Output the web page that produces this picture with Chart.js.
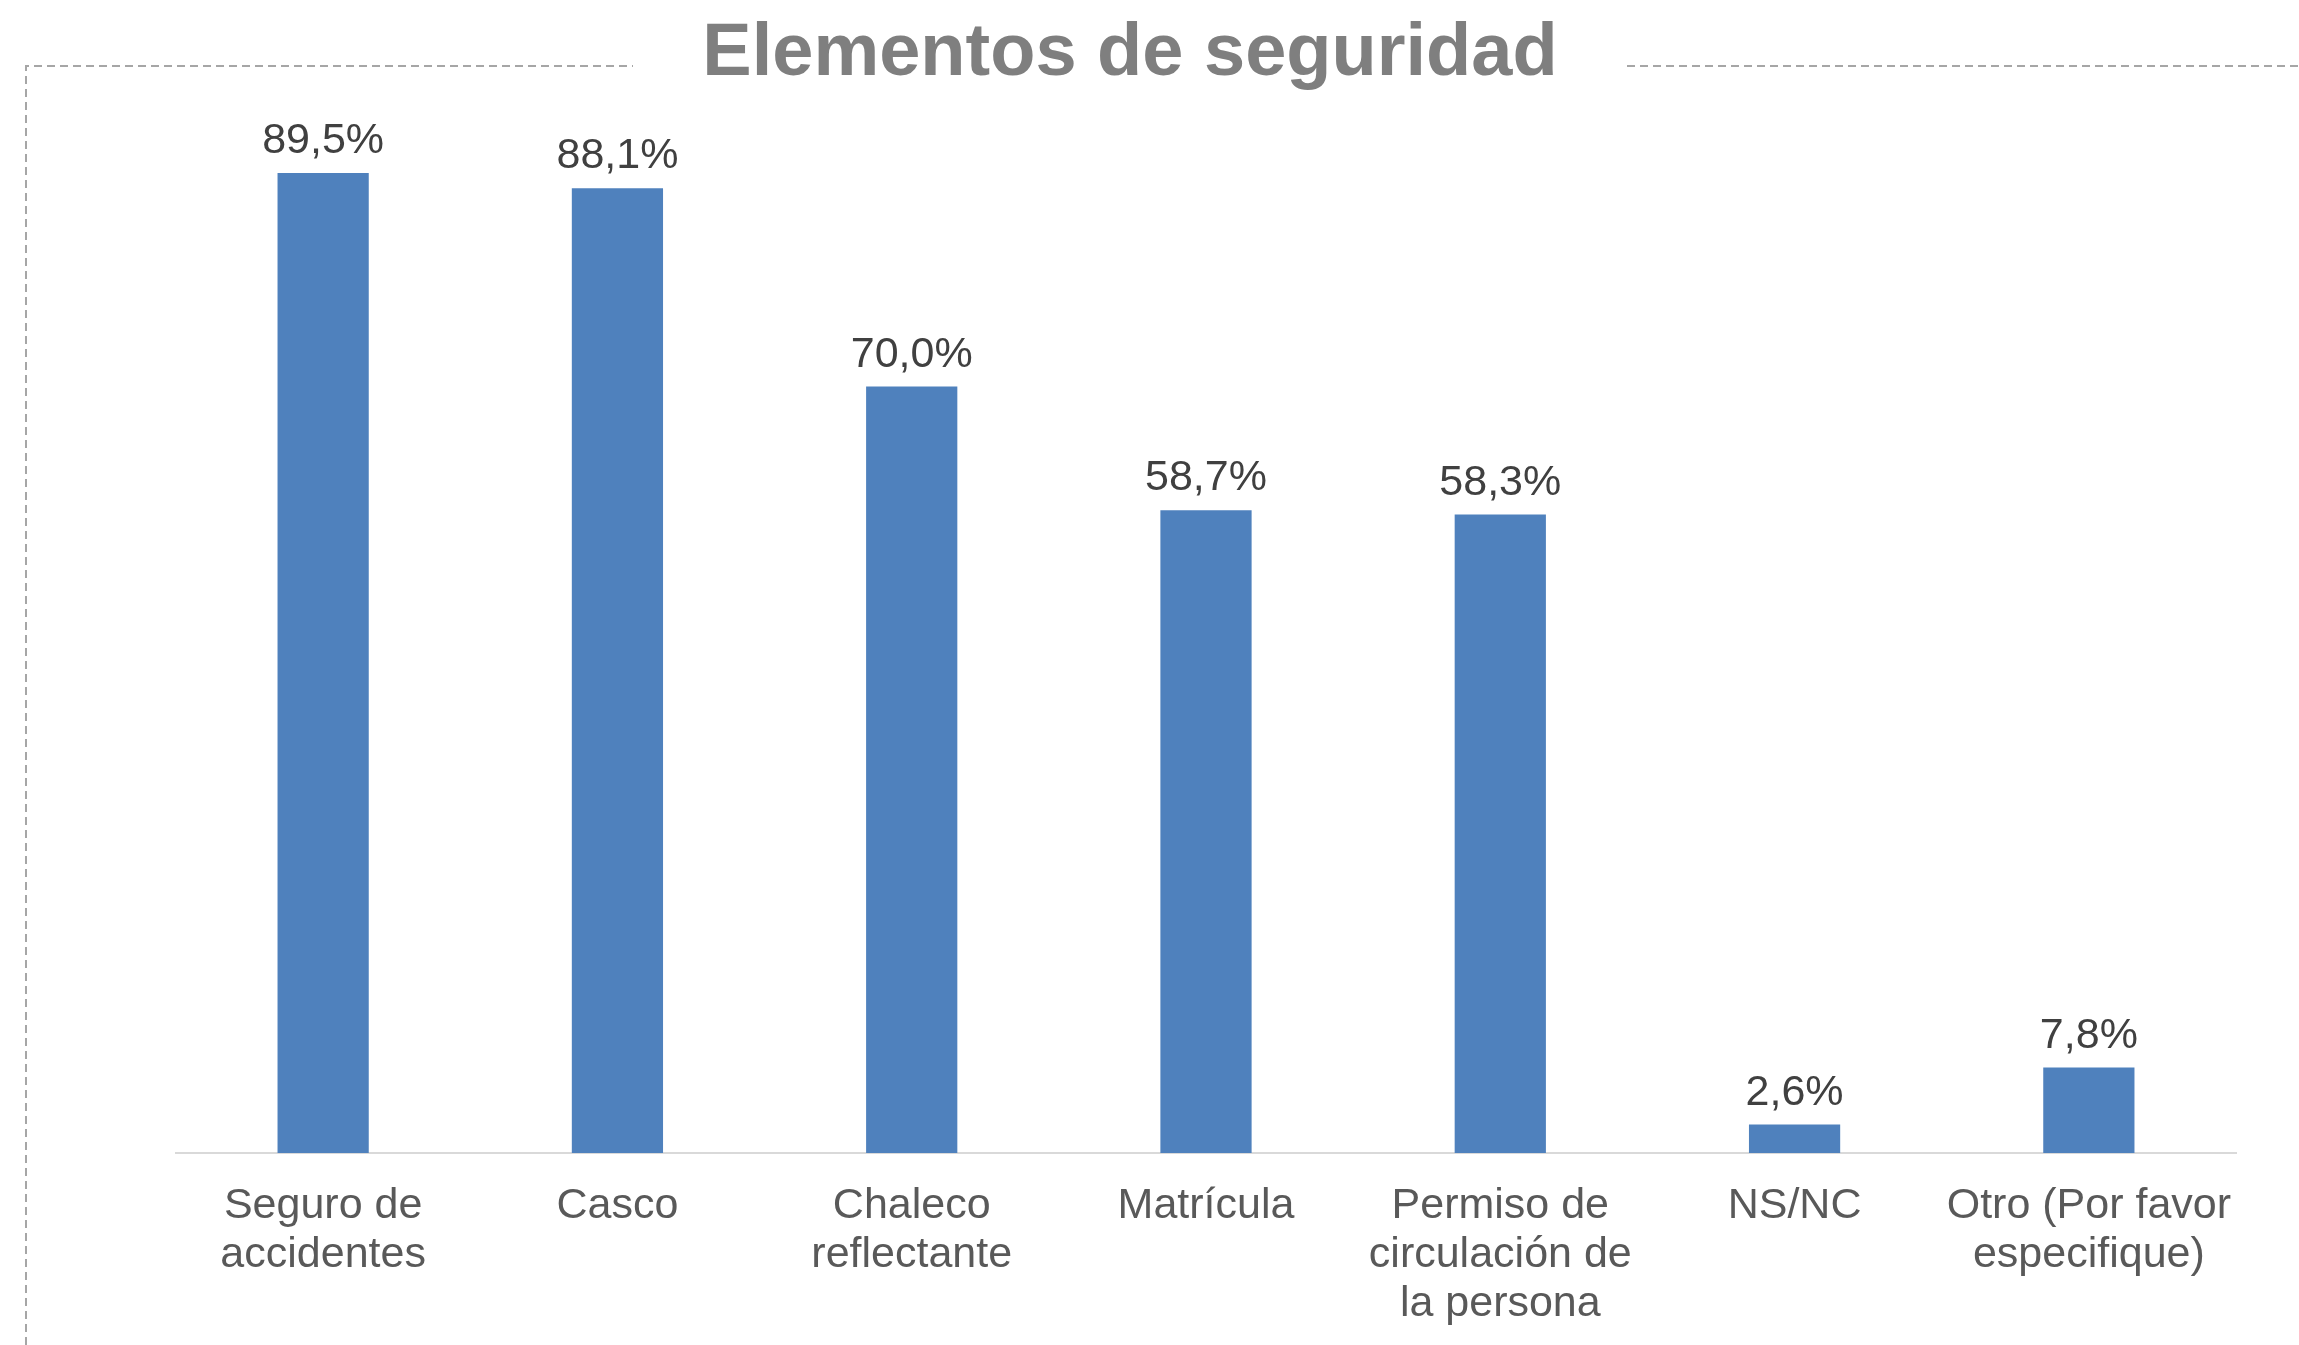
<!DOCTYPE html>
<html>
<head>
<meta charset="utf-8">
<style>
  html, body { margin: 0; padding: 0; background: #ffffff; }
  #wrap { width: 2299px; height: 1345px; position: relative; }
  canvas { display: block; }
</style>
<script src="https://cdn.jsdelivr.net/npm/chart.js@4.4.1/dist/chart.umd.min.js"></script>
</head>
<body>
<div id="wrap"><canvas id="c" width="2299" height="1345"></canvas></div>
<script>
const chartTitle = "Elementos de seguridad";
const categories = [
  ["Seguro de", "accidentes"],
  ["Casco"],
  ["Chaleco", "reflectante"],
  ["Matrícula"],
  ["Permiso de", "circulación de", "la persona"],
  ["NS/NC"],
  ["Otro (Por favor", "especifique)"]
];
const values = [89.5, 88.1, 70.0, 58.7, 58.3, 2.6, 7.8];
const valueLabels = ["89,5%", "88,1%", "70,0%", "58,7%", "58,3%", "2,6%", "7,8%"];

const FONT = "'Liberation Sans', Arial, sans-serif";

const frame = {
  id: 'frame',
  beforeDraw(chart) {
    const ctx = chart.ctx;
    ctx.save();
    ctx.strokeStyle = '#a6a6a6';
    ctx.lineWidth = 2;
    ctx.setLineDash([8, 5]);
    ctx.beginPath();
    ctx.moveTo(26, 1345);
    ctx.lineTo(26, 66);
    ctx.lineTo(633, 66);
    ctx.moveTo(1627, 66);
    ctx.lineTo(2299, 66);
    ctx.stroke();
    ctx.restore();
  }
};

const titlePlugin = {
  id: 'titleText',
  afterDraw(chart) {
    const ctx = chart.ctx;
    ctx.save();
    ctx.fillStyle = '#7f7f7f';
    ctx.font = 'bold 74px ' + FONT;
    ctx.textAlign = 'center';
    ctx.textBaseline = 'alphabetic';
    ctx.fillText(chartTitle, 1130, 75);
    ctx.restore();
  }
};

const valueLabelPlugin = {
  id: 'valueLabels',
  afterDatasetsDraw(chart) {
    const ctx = chart.ctx;
    const meta = chart.getDatasetMeta(0);
    ctx.save();
    ctx.fillStyle = '#404040';
    ctx.font = '43px ' + FONT;
    ctx.textAlign = 'center';
    ctx.textBaseline = 'alphabetic';
    meta.data.forEach((bar, i) => {
      ctx.fillText(valueLabels[i], bar.x, bar.y - 20);
    });
    ctx.restore();
  }
};

new Chart(document.getElementById('c'), {
  type: 'bar',
  data: {
    labels: categories,
    datasets: [{
      data: values,
      backgroundColor: '#4f81bd',
      borderWidth: 0,
      categoryPercentage: 1.0,
      barPercentage: 0.31
    }]
  },
  options: {
    responsive: false,
    animation: false,
    devicePixelRatio: 1,
    layout: { padding: { left: 176, right: 63, top: 58, bottom: 0 } },
    plugins: {
      legend: { display: false },
      tooltip: { enabled: false },
      title: { display: false }
    },
    scales: {
      x: {
        grid: { display: false, drawTicks: false },
        border: { display: true, color: '#d9d9d9', width: 2 },
        ticks: {
          color: '#595959',
          font: { family: FONT, size: 43, lineHeight: 1.14 },
          padding: 29,
          autoSkip: false,
          maxRotation: 0,
          minRotation: 0
        },
        afterFit(scale) { scale.height = 192; }
      },
      y: {
        display: false,
        min: 0,
        max: 100
      }
    }
  },
  plugins: [frame, titlePlugin, valueLabelPlugin]
});
</script>
</body>
</html>
